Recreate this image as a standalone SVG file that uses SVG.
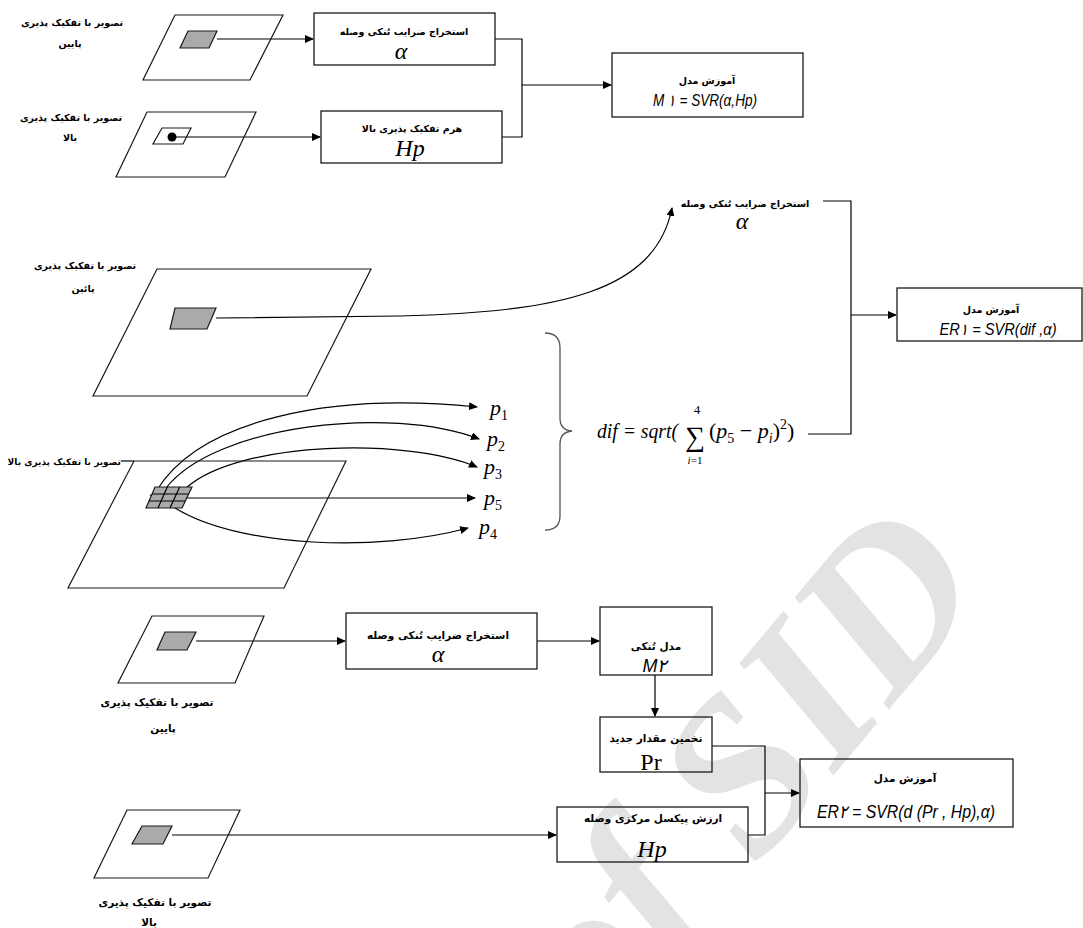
<svg xmlns="http://www.w3.org/2000/svg" width="1083" height="928" viewBox="0 0 1083 928">
<style>
.bg{fill:#ffffff}
.box{fill:none;stroke:#1a1a1a;stroke-width:1.3}
.pl{fill:none;stroke:#1a1a1a;stroke-width:1.2}
.patch{fill:#aaaaaa;stroke:#1a1a1a;stroke-width:1.2}
.ln{fill:none;stroke:#000;stroke-width:1.2}
.ar{fill:none;stroke:#000;stroke-width:1.2;marker-end:url(#ah)}
.fa{font-family:"DejaVu Sans","Noto Sans",sans-serif;font-weight:bold;font-size:9.5px;fill:#000;text-anchor:middle}
.fa2{font-family:"DejaVu Sans","Noto Sans",sans-serif;font-weight:bold;font-size:10.5px;fill:#000;text-anchor:middle}
.gr{font-family:"Liberation Serif",serif;font-style:italic;font-size:24px;fill:#000;text-anchor:middle}
.fm{font-family:"Liberation Sans","DejaVu Sans",sans-serif;font-style:italic;fill:#000;text-anchor:middle}
.mt{font-family:"Liberation Serif",serif;fill:#000}
.wm{font-family:"Liberation Serif",serif;font-style:italic;font-weight:bold;font-size:220px;fill:#e3e3e3;text-anchor:middle}
</style>
<defs>
<marker id="ah" markerWidth="9" markerHeight="8" refX="8" refY="4" orient="auto" markerUnits="userSpaceOnUse">
<path d="M0,0 L9,4 L0,8 Z" fill="#000"/>
</marker>
</defs>
<rect class="bg" x="0" y="0" width="1083" height="928"/>
<text class="wm" transform="translate(740,770) rotate(-50)" x="0" y="75">of SID</text>

<g id="connectors">
<path class="ar" d="M217,39 L313,39"/>
<path class="ar" d="M172,137 L320,137"/>
<path class="ln" d="M495,39 L522,39 L522,137 L502,137"/>
<path class="ar" d="M522,85 L611,85"/>
<path class="ar" d="M216,318 L400,316 C560,312 655,292 672,208"/>
<path class="ln" d="M823,201 L851,201 L851,434 L808,434"/>
<path class="ar" d="M851,315 L896,315"/>
<path class="ar" d="M157,490 C200,420 330,392 477,407"/>
<path class="ar" d="M166,488 C215,425 390,405 479,439"/>
<path class="ar" d="M186,488 C240,440 410,438 477,467"/>
<path class="ar" d="M187,498 L475,498"/>
<path class="ar" d="M150,495 L175,508 C240,548 380,552 468,528"/>
<path class="ar" d="M196,641 L345,641"/>
<path class="ar" d="M537,641 L599,641"/>
<path class="ar" d="M655,675 L655,716"/>
<path class="ln" d="M712,746 L765,746 L765,835 L748,835"/>
<path class="ar" d="M765,793 L799,793"/>
<path class="ar" d="M172,835 L556,835"/>
</g>

<g id="img-low-1">
<polygon class="pl" points="175,15 283,15 250,80 143,80"/>
<polygon class="patch" points="188,31 217,31 209,48 180,48"/>
<text class="fa" x="72" y="26">تصویر با تفکیک پذیری</text>
<text class="fa" x="70" y="47">پایین</text>
</g>
<g id="img-high-1">
<polygon class="pl" points="147,112 256,112 225,177 116,177"/>
<polygon class="pl" points="162,128 191,128 183,144 153,144"/>
<circle cx="172" cy="137" r="4.5" fill="#000"/>
<text class="fa" x="71" y="121">تصویر با تفکیک پذیری</text>
<text class="fa" x="70" y="141">بالا</text>
</g>
<g id="box-alpha-1">
<rect class="box" x="314" y="13" width="181" height="52"/>
<text class="fa" x="404" y="35">استخراج ضرایب تُنکی وصله</text>
<text class="gr" x="401" y="59">α</text>
</g>
<g id="box-hp-1">
<rect class="box" x="321" y="111" width="181" height="52"/>
<text class="fa" x="412" y="132">هرم تفکیک پذیری بالا</text>
<text class="gr" x="410" y="156">Hp</text>
</g>
<g id="box-m1">
<rect class="box" x="612" y="53" width="191" height="64"/>
<text class="fa" x="707" y="84">آموزش مدل</text>
<text class="fm" x="705" y="106" style="font-size:16px" textLength="104" lengthAdjust="spacingAndGlyphs">M ١ = SVR(α,Hp)</text>
</g>

<g id="alpha-2">
<text class="fa" x="745" y="207">استخراج ضرایب تُنکی وصله</text>
<text class="gr" x="742" y="229">α</text>
</g>
<g id="img-low-2">
<polygon class="pl" points="157,269 371,269 307,396 93,396"/>
<polygon class="patch" points="175,308 216,308 207,329 170,329"/>
<text class="fa" x="85" y="269">تصویر با تفکیک پذیری</text>
<text class="fa" x="83" y="292">پائین</text>
</g>
<g id="img-high-2">
<polygon class="pl" points="134,461 346,461 284,588 68,588"/>
<path class="ln" d="M121,461 L134,461"/>
<polygon class="patch" points="155,487 192,487 182,508 146,508"/>
<path class="ln" d="M152,494 L188.7,494 M149,501 L185.3,501 M167.3,487 L158,508 M179.7,487 L170,508"/>
<text class="fa" x="121" y="465" style="text-anchor:end;font-size:9px">تصویر با تفکیک پذیری بالا</text>
</g>
<g id="p-labels">
<text class="mt" x="490" y="415" style="font-size:22px"><tspan font-style="italic">p</tspan><tspan style="font-size:14px" dy="5">1</tspan></text>
<text class="mt" x="487" y="446" style="font-size:22px"><tspan font-style="italic">p</tspan><tspan style="font-size:14px" dy="5">2</tspan></text>
<text class="mt" x="484" y="474" style="font-size:22px"><tspan font-style="italic">p</tspan><tspan style="font-size:14px" dy="5">3</tspan></text>
<text class="mt" x="484" y="505" style="font-size:22px"><tspan font-style="italic">p</tspan><tspan style="font-size:14px" dy="5">5</tspan></text>
<text class="mt" x="479" y="534" style="font-size:22px"><tspan font-style="italic">p</tspan><tspan style="font-size:14px" dy="5">4</tspan></text>
</g>
<g id="brace">
<path d="M545,333 Q560,333 560,348 L560,418 Q560,430 572,431 Q560,432 560,444 L560,516 Q560,530 545,530" fill="none" stroke="#555" stroke-width="1.3"/>
</g>
<g id="formula-dif">
<text class="mt" x="597" y="438" style="font-size:22px;font-style:italic" textLength="81" lengthAdjust="spacingAndGlyphs">dif = sqrt(</text>
<text class="mt" x="695" y="446" style="font-size:28px;text-anchor:middle">∑</text>
<text class="mt" x="697" y="414" style="font-size:13px;text-anchor:middle">4</text>
<text class="mt" x="695" y="464" style="font-size:11px;text-anchor:middle"><tspan font-style="italic">i</tspan>=1</text>
<text class="mt" x="709" y="438" style="font-size:22px">(<tspan font-style="italic">p</tspan><tspan style="font-size:14px" dy="5">5</tspan><tspan dy="-5"> − </tspan><tspan font-style="italic">p</tspan><tspan style="font-size:14px;font-style:italic" dy="5">i</tspan><tspan dy="-5">)</tspan><tspan style="font-size:14px" dy="-9">2</tspan><tspan dy="9">)</tspan></text>
</g>
<g id="box-er1">
<rect class="box" x="897" y="288" width="185" height="53"/>
<text class="fa" x="991" y="313">آموزش مدل</text>
<text class="fm" x="998" y="335" style="font-size:16px" textLength="117" lengthAdjust="spacingAndGlyphs">ER١ = SVR(dif ,α)</text>
</g>

<g id="img-low-3">
<polygon class="pl" points="152,616 264,616 235,683 118,683"/>
<polygon class="patch" points="165,632 196,632 187,650 157,650"/>
<text class="fa2" x="157" y="706">تصویر با تفکیک پذیری</text>
<text class="fa2" x="163" y="732">پایین</text>
</g>
<g id="box-alpha-3">
<rect class="box" x="346" y="613" width="191" height="56"/>
<text class="fa2" x="438" y="639">استخراج ضرایب تُنکی وصله</text>
<text class="gr" x="438" y="662">α</text>
</g>
<g id="box-m2">
<rect class="box" x="600" y="607" width="112" height="68"/>
<text class="fa2" x="656" y="650">مدل تُنکی</text>
<text class="fm" x="655" y="672" style="font-size:18px">M٢</text>
</g>
<g id="box-pr">
<rect class="box" x="600" y="717" width="112" height="55"/>
<text class="fa2" x="656" y="742">تخمین مقدار جدید</text>
<text class="mt" x="651" y="770" style="font-size:24px;text-anchor:middle">Pr</text>
</g>
<g id="img-high-3">
<polygon class="pl" points="127,810 240,810 208,878 94,878"/>
<polygon class="patch" points="142,826 172,826 163,844 132,844"/>
<text class="fa2" x="155" y="906">تصویر با تفکیک پذیری</text>
<text class="fa2" x="149" y="926">بالا</text>
</g>
<g id="box-hp-3">
<rect class="box" x="557" y="807" width="191" height="55"/>
<text class="fa2" x="653" y="822">ارزش پیکسل مرکزی وصله</text>
<text class="gr" x="652" y="857">Hp</text>
</g>
<g id="box-er2">
<rect class="box" x="800" y="759" width="213" height="68"/>
<text class="fa2" x="905" y="782">آموزش مدل</text>
<text class="fm" x="906" y="818" style="font-size:18px" textLength="178" lengthAdjust="spacingAndGlyphs">ER٢ = SVR(d (Pr , Hp),α)</text>
</g>
</svg>
